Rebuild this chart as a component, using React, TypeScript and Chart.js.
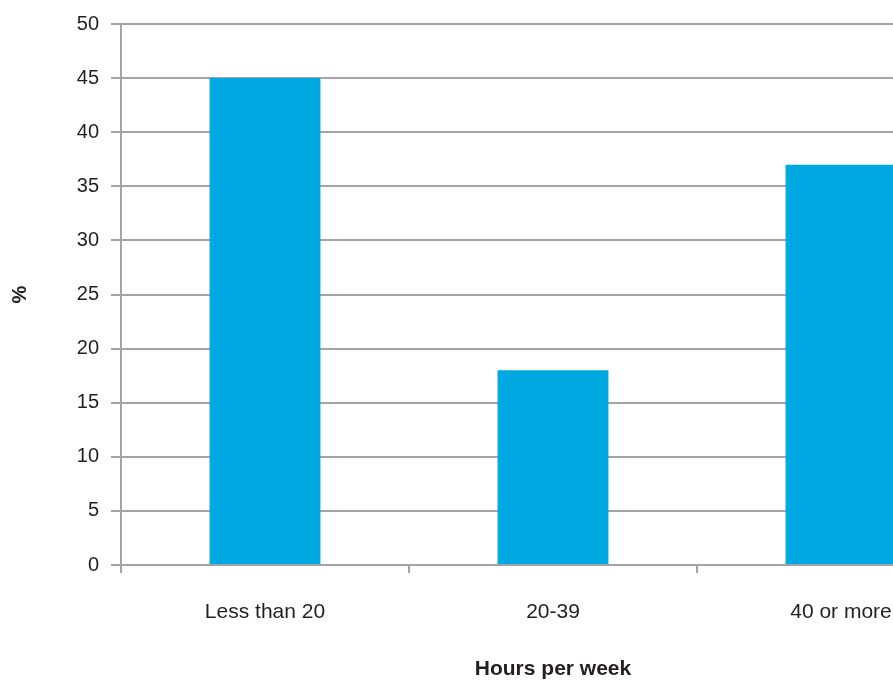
import React, { useEffect, useRef } from "react";
import { Chart, registerables } from "chart.js";

Chart.register(...registerables);

// Share of respondents by weekly hours worked
const categories = ["Less than 20", "20-39", "40 or more"];
const percentValues = [45, 18, 37];
const yTicks = [0, 5, 10, 15, 20, 25, 30, 35, 40, 45, 50];

const FONT = "'Liberation Sans', Arial, Helvetica, sans-serif";
const TEXT = "#231f20";
const GRID = "#a4a4a8";
const BAR = "#00a8e2";

export default function App() {
  const canvasRef = useRef<HTMLCanvasElement | null>(null);

  useEffect(() => {
    const canvas = canvasRef.current;
    if (!canvas) return;
    const chart = new Chart(canvas, {
      type: "bar",
      data: {
        labels: categories,
        datasets: [
          {
            data: percentValues,
            backgroundColor: BAR,
            borderWidth: 0,
            categoryPercentage: 1,
            barPercentage: 0.385,
          },
        ],
      },
      options: {
        responsive: false,
        animation: false,
        layout: { padding: { top: 24, right: 15, bottom: 0, left: 0 } },
        plugins: {
          legend: { display: false },
          tooltip: { enabled: false },
        },
        scales: {
          x: {
            grid: {
              offset: true,
              drawOnChartArea: false,
              drawTicks: true,
              tickLength: 8,
              color: GRID,
              lineWidth: 2,
            },
            border: { display: true, color: GRID, width: 2 },
            ticks: {
              color: TEXT,
              font: { family: FONT, size: 21 },
              padding: 27,
              maxRotation: 0,
            },
            title: {
              display: true,
              text: "Hours per week",
              color: TEXT,
              font: { family: FONT, size: 21, weight: "bold" },
              padding: { top: 0, bottom: 0 },
            },
            afterFit: (scale: any) => {
              scale.height = 117;
            },
          },
          y: {
            min: 0,
            max: 50,
            afterBuildTicks: (scale: any) => {
              scale.ticks = yTicks.map((v) => ({ value: v }));
            },
            grid: {
              color: GRID,
              lineWidth: 2,
              tickLength: 10,
            },
            border: { display: true, color: GRID, width: 2 },
            ticks: {
              color: TEXT,
              font: { family: FONT, size: 20 },
              padding: 12,
            },
            title: {
              display: true,
              text: "%",
              color: TEXT,
              font: { family: FONT, size: 20, weight: "bold" },
              padding: { top: 8, bottom: 0 },
            },
            afterFit: (scale: any) => {
              scale.width = 121;
            },
          },
        },
      },
    });
    return () => chart.destroy();
  }, []);

  return (
    <div
      style={{
        position: "fixed",
        left: 0,
        top: 0,
        width: 893,
        height: 682,
        overflow: "hidden",
        background: "#ffffff",
      }}
    >
      <canvas ref={canvasRef} width={1000} height={682} style={{ display: "block" }} />
    </div>
  );
}
